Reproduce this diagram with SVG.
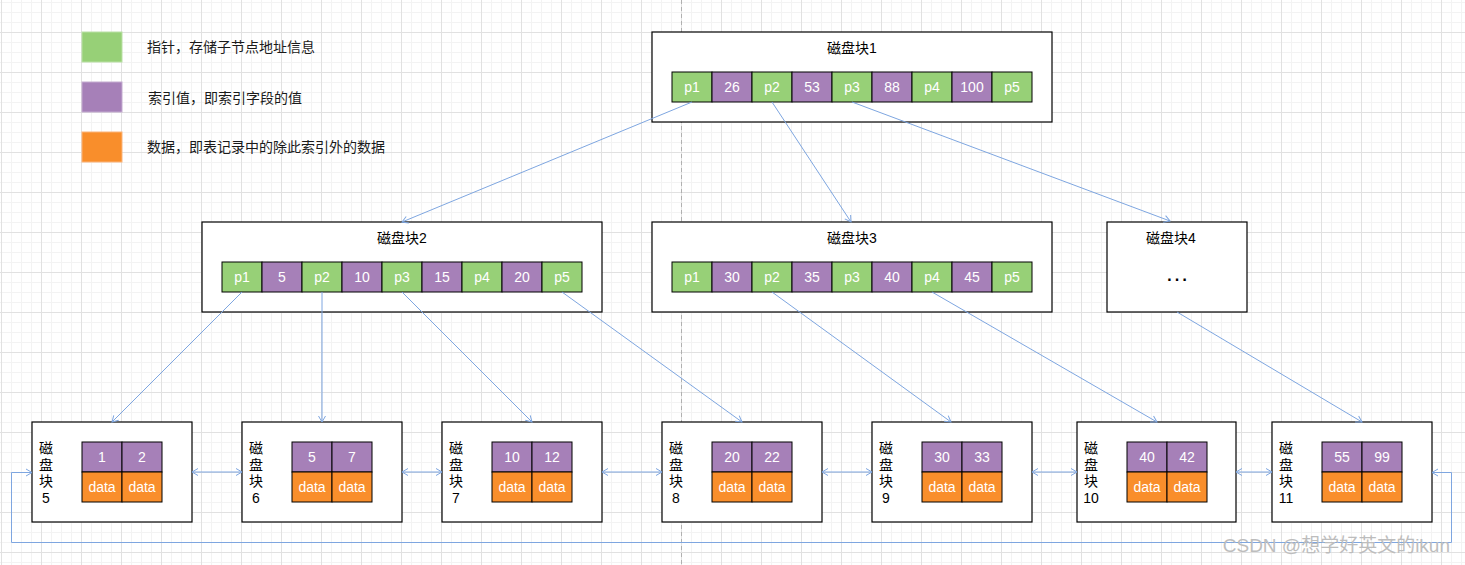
<svg xmlns="http://www.w3.org/2000/svg" width="1465" height="565" viewBox="0 0 1465 565">
<style>
.blk{fill:#ffffff;stroke:#000000;stroke-width:1.2}
.g{fill:#97D077;stroke:#000000;stroke-width:1}
.p{fill:#A680B8;stroke:#000000;stroke-width:1}
.o{fill:#F98E2B;stroke:#000000;stroke-width:1}
.ct{font-family:"Liberation Sans",Arial,sans-serif;font-size:14px;fill:#ffffff;text-anchor:middle}
.tt{font-family:"Liberation Sans","Noto Sans CJK SC",sans-serif;font-size:14px;fill:#000000;text-anchor:middle}
.lg{font-family:"Noto Sans CJK SC","Liberation Sans",sans-serif;font-size:14px;fill:#1a1a1a}
.e{fill:none;stroke:#7EA6E0;stroke-width:1}
</style>
<defs>
<pattern id="grid" width="40" height="40" x="1" y="32" patternUnits="userSpaceOnUse">
<rect x="10" y="0" width="1" height="40" fill="#f3f3f3"/>
<rect x="20" y="0" width="1" height="40" fill="#f3f3f3"/>
<rect x="30" y="0" width="1" height="40" fill="#f3f3f3"/>
<rect x="0" y="10" width="40" height="1" fill="#f3f3f3"/>
<rect x="0" y="20" width="40" height="1" fill="#f3f3f3"/>
<rect x="0" y="30" width="40" height="1" fill="#f3f3f3"/>
<rect x="0" y="0" width="1" height="40" fill="#e1e1e1"/>
<rect x="0" y="0" width="40" height="1" fill="#e1e1e1"/>
</pattern>
<marker id="arr" viewBox="-8 -6 10 12" refX="0" refY="0" markerWidth="10" markerHeight="12" markerUnits="userSpaceOnUse" orient="auto-start-reverse">
<path d="M-6,-3.5 L0,0 L-6,3.5" fill="none" stroke="#7EA6E0" stroke-width="1"/>
</marker>
</defs>
<rect width="1465" height="565" fill="#ffffff"/>
<rect width="1465" height="565" fill="url(#grid)"/>
<line x1="681.5" y1="0" x2="681.5" y2="565" stroke="#b0b0b0" stroke-width="1" stroke-dasharray="4 3"/>

<g id="legend">
<rect x="82" y="32" width="40" height="30" fill="#97D077" stroke="#b9e0a5"/>
<text class="lg" x="147" y="52">指针，存储子节点地址信息</text>
<rect x="82" y="82" width="40" height="30" fill="#A680B8" stroke="#c3abd0"/>
<text class="lg" x="148" y="102.5">索引值，即索引字段的值</text>
<rect x="82" y="132" width="40" height="30" fill="#F98E2B" stroke="#fbb47a"/>
<text class="lg" x="147" y="151.5">数据，即表记录中的除此索引外的数据</text>
</g>

<g id="block1">
<rect class="blk" x="652" y="32" width="400" height="90"/>
<text class="tt" x="852" y="53">磁盘块1</text>
<rect class="g" x="672" y="72" width="40" height="30"/><text class="ct" x="692" y="92">p1</text>
<rect class="p" x="712" y="72" width="40" height="30"/><text class="ct" x="732" y="92">26</text>
<rect class="g" x="752" y="72" width="40" height="30"/><text class="ct" x="772" y="92">p2</text>
<rect class="p" x="792" y="72" width="40" height="30"/><text class="ct" x="812" y="92">53</text>
<rect class="g" x="832" y="72" width="40" height="30"/><text class="ct" x="852" y="92">p3</text>
<rect class="p" x="872" y="72" width="40" height="30"/><text class="ct" x="892" y="92">88</text>
<rect class="g" x="912" y="72" width="40" height="30"/><text class="ct" x="932" y="92">p4</text>
<rect class="p" x="952" y="72" width="40" height="30"/><text class="ct" x="972" y="92">100</text>
<rect class="g" x="992" y="72" width="40" height="30"/><text class="ct" x="1012" y="92">p5</text>
</g>

<g id="block2">
<rect class="blk" x="202" y="222" width="400" height="90"/>
<text class="tt" x="402" y="243">磁盘块2</text>
<rect class="g" x="222" y="262" width="40" height="30"/><text class="ct" x="242" y="282">p1</text>
<rect class="p" x="262" y="262" width="40" height="30"/><text class="ct" x="282" y="282">5</text>
<rect class="g" x="302" y="262" width="40" height="30"/><text class="ct" x="322" y="282">p2</text>
<rect class="p" x="342" y="262" width="40" height="30"/><text class="ct" x="362" y="282">10</text>
<rect class="g" x="382" y="262" width="40" height="30"/><text class="ct" x="402" y="282">p3</text>
<rect class="p" x="422" y="262" width="40" height="30"/><text class="ct" x="442" y="282">15</text>
<rect class="g" x="462" y="262" width="40" height="30"/><text class="ct" x="482" y="282">p4</text>
<rect class="p" x="502" y="262" width="40" height="30"/><text class="ct" x="522" y="282">20</text>
<rect class="g" x="542" y="262" width="40" height="30"/><text class="ct" x="562" y="282">p5</text>
</g>

<g id="block3">
<rect class="blk" x="652" y="222" width="400" height="90"/>
<text class="tt" x="852" y="243">磁盘块3</text>
<rect class="g" x="672" y="262" width="40" height="30"/><text class="ct" x="692" y="282">p1</text>
<rect class="p" x="712" y="262" width="40" height="30"/><text class="ct" x="732" y="282">30</text>
<rect class="g" x="752" y="262" width="40" height="30"/><text class="ct" x="772" y="282">p2</text>
<rect class="p" x="792" y="262" width="40" height="30"/><text class="ct" x="812" y="282">35</text>
<rect class="g" x="832" y="262" width="40" height="30"/><text class="ct" x="852" y="282">p3</text>
<rect class="p" x="872" y="262" width="40" height="30"/><text class="ct" x="892" y="282">40</text>
<rect class="g" x="912" y="262" width="40" height="30"/><text class="ct" x="932" y="282">p4</text>
<rect class="p" x="952" y="262" width="40" height="30"/><text class="ct" x="972" y="282">45</text>
<rect class="g" x="992" y="262" width="40" height="30"/><text class="ct" x="1012" y="282">p5</text>
</g>

<g id="block4">
<rect class="blk" x="1107" y="222" width="140" height="90"/>
<text class="tt" x="1171" y="243">磁盘块4</text>
<text class="tt" x="1177" y="281" style="font-size:24px">…</text>
</g>

<g id="block5">
<rect class="blk" x="32" y="422" width="160" height="100"/>
<text class="tt" x="46" y="453">磁</text><text class="tt" x="46" y="470">盘</text><text class="tt" x="46" y="486">块</text><text class="tt" x="46" y="503">5</text>
<rect class="p" x="82" y="442" width="40" height="30"/><text class="ct" x="102" y="462">1</text>
<rect class="p" x="122" y="442" width="40" height="30"/><text class="ct" x="142" y="462">2</text>
<rect class="o" x="82" y="472" width="40" height="30"/><text class="ct" x="102" y="492">data</text>
<rect class="o" x="122" y="472" width="40" height="30"/><text class="ct" x="142" y="492">data</text>
</g>

<g id="block6">
<rect class="blk" x="242" y="422" width="160" height="100"/>
<text class="tt" x="256" y="453">磁</text><text class="tt" x="256" y="470">盘</text><text class="tt" x="256" y="486">块</text><text class="tt" x="256" y="503">6</text>
<rect class="p" x="292" y="442" width="40" height="30"/><text class="ct" x="312" y="462">5</text>
<rect class="p" x="332" y="442" width="40" height="30"/><text class="ct" x="352" y="462">7</text>
<rect class="o" x="292" y="472" width="40" height="30"/><text class="ct" x="312" y="492">data</text>
<rect class="o" x="332" y="472" width="40" height="30"/><text class="ct" x="352" y="492">data</text>
</g>

<g id="block7">
<rect class="blk" x="442" y="422" width="160" height="100"/>
<text class="tt" x="456" y="453">磁</text><text class="tt" x="456" y="470">盘</text><text class="tt" x="456" y="486">块</text><text class="tt" x="456" y="503">7</text>
<rect class="p" x="492" y="442" width="40" height="30"/><text class="ct" x="512" y="462">10</text>
<rect class="p" x="532" y="442" width="40" height="30"/><text class="ct" x="552" y="462">12</text>
<rect class="o" x="492" y="472" width="40" height="30"/><text class="ct" x="512" y="492">data</text>
<rect class="o" x="532" y="472" width="40" height="30"/><text class="ct" x="552" y="492">data</text>
</g>

<g id="block8">
<rect class="blk" x="662" y="422" width="160" height="100"/>
<text class="tt" x="676" y="453">磁</text><text class="tt" x="676" y="470">盘</text><text class="tt" x="676" y="486">块</text><text class="tt" x="676" y="503">8</text>
<rect class="p" x="712" y="442" width="40" height="30"/><text class="ct" x="732" y="462">20</text>
<rect class="p" x="752" y="442" width="40" height="30"/><text class="ct" x="772" y="462">22</text>
<rect class="o" x="712" y="472" width="40" height="30"/><text class="ct" x="732" y="492">data</text>
<rect class="o" x="752" y="472" width="40" height="30"/><text class="ct" x="772" y="492">data</text>
</g>

<g id="block9">
<rect class="blk" x="872" y="422" width="160" height="100"/>
<text class="tt" x="886" y="453">磁</text><text class="tt" x="886" y="470">盘</text><text class="tt" x="886" y="486">块</text><text class="tt" x="886" y="503">9</text>
<rect class="p" x="922" y="442" width="40" height="30"/><text class="ct" x="942" y="462">30</text>
<rect class="p" x="962" y="442" width="40" height="30"/><text class="ct" x="982" y="462">33</text>
<rect class="o" x="922" y="472" width="40" height="30"/><text class="ct" x="942" y="492">data</text>
<rect class="o" x="962" y="472" width="40" height="30"/><text class="ct" x="982" y="492">data</text>
</g>

<g id="block10">
<rect class="blk" x="1077" y="422" width="159" height="100"/>
<text class="tt" x="1091" y="453">磁</text><text class="tt" x="1091" y="470">盘</text><text class="tt" x="1091" y="486">块</text><text class="tt" x="1091" y="503">10</text>
<rect class="p" x="1127" y="442" width="40" height="30"/><text class="ct" x="1147" y="462">40</text>
<rect class="p" x="1167" y="442" width="40" height="30"/><text class="ct" x="1187" y="462">42</text>
<rect class="o" x="1127" y="472" width="40" height="30"/><text class="ct" x="1147" y="492">data</text>
<rect class="o" x="1167" y="472" width="40" height="30"/><text class="ct" x="1187" y="492">data</text>
</g>

<g id="block11">
<rect class="blk" x="1272" y="422" width="160" height="100"/>
<text class="tt" x="1286" y="453">磁</text><text class="tt" x="1286" y="470">盘</text><text class="tt" x="1286" y="486">块</text><text class="tt" x="1286" y="503">11</text>
<rect class="p" x="1322" y="442" width="40" height="30"/><text class="ct" x="1342" y="462">55</text>
<rect class="p" x="1362" y="442" width="40" height="30"/><text class="ct" x="1382" y="462">99</text>
<rect class="o" x="1322" y="472" width="40" height="30"/><text class="ct" x="1342" y="492">data</text>
<rect class="o" x="1362" y="472" width="40" height="30"/><text class="ct" x="1382" y="492">data</text>
</g>

<g id="connectors">
<line class="e" x1="692" y1="102" x2="402" y2="222" marker-end="url(#arr)"/>
<line class="e" x1="772" y1="102" x2="851" y2="222" marker-end="url(#arr)"/>
<line class="e" x1="852" y1="102" x2="1170" y2="221" marker-end="url(#arr)"/>
<line class="e" x1="242" y1="292" x2="112" y2="422" marker-end="url(#arr)"/>
<line class="e" x1="322" y1="292" x2="322" y2="422" marker-end="url(#arr)"/>
<line class="e" x1="402" y1="292" x2="532" y2="422" marker-end="url(#arr)"/>
<line class="e" x1="562" y1="292" x2="742" y2="422" marker-end="url(#arr)"/>
<line class="e" x1="772" y1="292" x2="951" y2="422" marker-end="url(#arr)"/>
<line class="e" x1="932" y1="292" x2="1157" y2="422" marker-end="url(#arr)"/>
<line class="e" x1="1177" y1="312" x2="1362" y2="422" marker-end="url(#arr)"/>
<line class="e" x1="192" y1="472" x2="242" y2="472" marker-start="url(#arr)" marker-end="url(#arr)"/>
<line class="e" x1="402" y1="472" x2="442" y2="472" marker-start="url(#arr)" marker-end="url(#arr)"/>
<line class="e" x1="602" y1="472" x2="662" y2="472" marker-start="url(#arr)" marker-end="url(#arr)"/>
<line class="e" x1="822" y1="472" x2="872" y2="472" marker-start="url(#arr)" marker-end="url(#arr)"/>
<line class="e" x1="1032" y1="472" x2="1077" y2="472" marker-start="url(#arr)" marker-end="url(#arr)"/>
<line class="e" x1="1236" y1="472" x2="1272" y2="472" marker-start="url(#arr)" marker-end="url(#arr)"/>
<path class="e" d="M1432,472.5 H1451.5 V542.5 H11.5 V472.5 H32" marker-start="url(#arr)" marker-end="url(#arr)"/>
</g>

<text x="1450" y="552" text-anchor="end" style="font-family:'Liberation Sans','Noto Sans CJK SC',sans-serif;font-size:19px;fill:#bdbdbd">CSDN @想学好英文的ikun</text>
</svg>
